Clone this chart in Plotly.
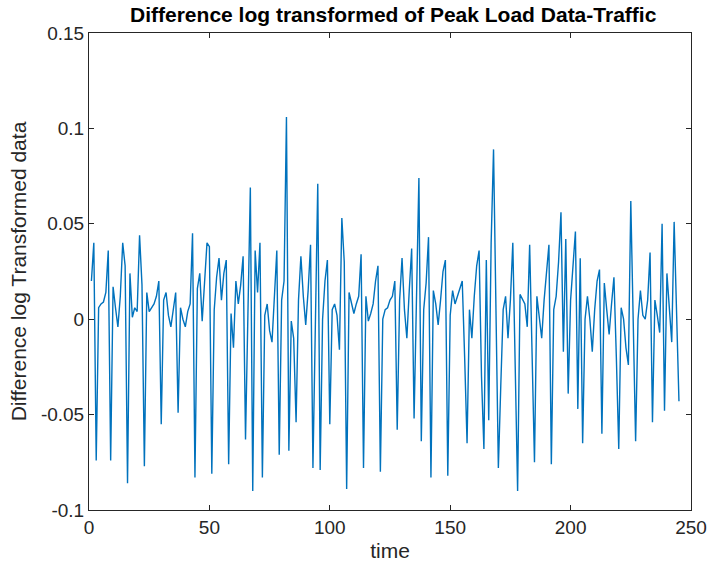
import plotly.graph_objects as go

# Differenced log of peak load traffic, one value per time step
time = list(range(1, 246))
diff_log = [
    0.020, 0.040, -0.074, 0.006, 0.008, 0.009, 0.014, 0.036, -0.074, 0.017,
    0.006, -0.004, 0.012, 0.040, 0.028, -0.086, 0.024, 0.001, 0.006, 0.004,
    0.044, 0.018, -0.077, 0.014, 0.004, 0.006, 0.008, 0.012, 0.020, -0.055,
    0.010, 0.014, 0.002, -0.004, 0.006, 0.014, -0.049, 0.006, 0.000, -0.004,
    0.004, 0.008, 0.045, -0.083, 0.016, 0.024, -0.001, 0.022, 0.040, 0.038,
    -0.081, 0.005, 0.022, 0.032, 0.010, 0.024, 0.031, -0.076, 0.003, -0.015,
    0.020, 0.008, 0.018, 0.033, -0.063, 0.003, 0.069, -0.090, 0.036, 0.014,
    0.040, -0.083, 0.002, 0.008, -0.006, -0.012, 0.010, 0.036, -0.071, 0.010,
    0.020, 0.106, -0.069, -0.001, -0.010, -0.054, 0.010, 0.033, 0.012, -0.003,
    0.015, 0.039, -0.078, 0.010, 0.071, -0.079, 0.000, 0.020, 0.031, -0.055,
    0.005, 0.008, 0.002, -0.016, 0.053, 0.030, -0.089, 0.014, 0.008, 0.003,
    0.008, 0.012, 0.034, -0.078, 0.012, -0.001, 0.003, 0.008, 0.020, 0.028,
    -0.080, 0.000, 0.005, 0.006, 0.010, 0.012, 0.020, -0.058, 0.010, 0.032,
    0.005, -0.010, 0.015, 0.037, -0.052, 0.010, 0.074, -0.064, 0.005, 0.019,
    0.043, -0.083, 0.015, 0.008, -0.003, 0.010, 0.025, 0.031, -0.082, 0.002,
    0.015, 0.008, 0.012, 0.016, 0.020, -0.020, -0.065, 0.005, -0.010, 0.012,
    0.028, 0.036, -0.030, -0.068, 0.031, -0.053, 0.040, 0.089, 0.006, -0.078,
    -0.035, 0.005, 0.012, -0.010, 0.010, 0.040, -0.025, -0.090, 0.013, 0.010,
    0.008, -0.004, 0.039, -0.018, -0.075, 0.012, 0.000, -0.010, 0.010, 0.025,
    0.039, -0.076, 0.005, 0.012, 0.030, 0.056, -0.017, 0.042, -0.039, 0.010,
    0.030, 0.046, -0.047, 0.032, -0.065, 0.000, 0.012, 0.000, -0.017, 0.005,
    0.020, 0.026, -0.060, 0.019, 0.005, -0.008, 0.008, 0.022, -0.020, -0.068,
    0.006, 0.000, -0.015, -0.024, 0.062, 0.000, -0.064, 0.000, 0.015, 0.002,
    0.000, 0.010, 0.035, -0.054, 0.010, 0.002, -0.007, 0.050, -0.048, 0.024,
    0.005, -0.012, 0.051, 0.005, -0.043,
]

x_ticks = [0, 50, 100, 150, 200, 250]
y_ticks = [-0.1, -0.05, 0, 0.05, 0.1, 0.15]
y_tick_text = ["-0.1", "-0.05", "0", "0.05", "0.1", "0.15"]

axis_col = "#262626"
font_family = "Liberation Sans, Arial, sans-serif"

fig = go.Figure()
fig.add_trace(go.Scatter(
    x=time, y=diff_log, mode="lines",
    line=dict(color="#0072BD", width=1.4),
    showlegend=False,
))

common = dict(
    showline=True, linecolor=axis_col, linewidth=1, mirror="ticks",
    ticks="inside", ticklen=5, tickcolor=axis_col, tickwidth=1,
    showgrid=False, zeroline=False, automargin=False,
    tickfont=dict(family=font_family, size=19, color=axis_col),
)

fig.update_layout(
    width=711, height=571,
    margin=dict(l=89, r=20, t=33, b=61),
    paper_bgcolor="white", plot_bgcolor="white",
    title=dict(
        text="<b>Difference log transformed of Peak Load Data-Traffic</b>",
        x=0.553, xanchor="center", y=0.974, yanchor="middle",
        font=dict(family=font_family, size=21, color="#000000"),
    ),
    xaxis=dict(
        range=[0, 250], tickvals=x_ticks,
        title=dict(text="time", standoff=6,
                   font=dict(family=font_family, size=21, color=axis_col)),
        **common,
    ),
    yaxis=dict(
        range=[-0.1, 0.15], tickvals=y_ticks, ticktext=y_tick_text,
        title=dict(text="Difference log Transformed data", standoff=8,
                   font=dict(family=font_family, size=21, color=axis_col)),
        **common,
    ),
)

fig.write_html("out.html")
